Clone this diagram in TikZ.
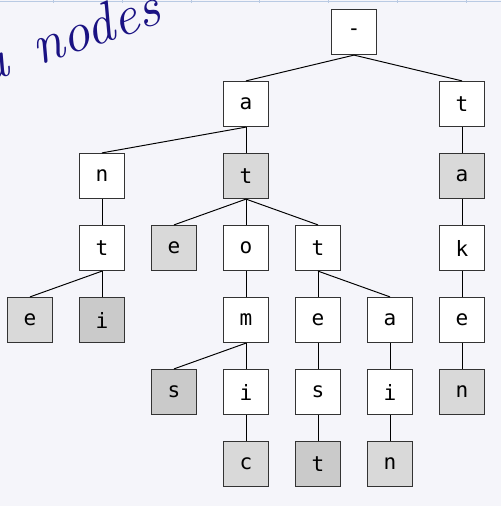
\documentclass[tikz,border=0pt]{standalone}
\usepackage{fontspec}
\setmonofont{DejaVu Sans Mono}
\usepackage{tikz}
\usetikzlibrary{positioning}
\definecolor{pagebg}{HTML}{F5F5FA}
\definecolor{gridblue}{HTML}{B9CAE3}
\definecolor{inkblue}{HTML}{1A1283}
\definecolor{endlight}{HTML}{D9D9D9}
\definecolor{enddark}{HTML}{CACACA}
\tikzset{
  trie/char/.style={draw=black!80, line width=0.7pt, fill=white, minimum size=0.9cm, inner sep=0pt,
    font=\fontsize{12}{12}\selectfont\ttfamily},
  trie/word/.style={trie/char, fill=endlight},
  trie/wordb/.style={trie/char, fill=enddark},
  trie/edge/.style={line width=0.55pt},
  trie/grid/.style={gridblue, line width=0.5pt}
}

\begin{document}
\begin{tikzpicture}[x=0.02cm, y=-0.02cm]
  \clip (0,0) rectangle (501,506);
  \fill[pagebg] (0,0) rectangle (501,506);
  % strip at the top edge
  \draw[trie/grid] (0,1.5) -- (501,1.5);
  \foreach \gx in {53,122,191,259,328,397,466}
    \draw[trie/grid] (\gx,0) -- (\gx,3);
  % handwriting
  \node[inkblue, rotate=19, font=\fontsize{32}{32}\selectfont\itshape] (hand) at (68,35) {a\hspace{0.15em} nodes};

  \node[trie/char] (root) at (354,32) {-};
  \node[trie/char] (a) at (246,104) {a};
  \node[trie/char] (t) at (462,104) {t};

  \node[trie/char] (an) at (102,176) {n};
  \node[trie/word] (at) at (246,176) {t};
  \node[trie/word] (ta) at (462,176) {a};

  \node[trie/char] (ant) at (102,248) {t};
  \node[trie/word] (ate) at (174,248) {e};
  \node[trie/char] (ato) at (246,248) {o};
  \node[trie/char] (att) at (318,248) {t};
  \node[trie/char] (tak) at (462,248) {k};

  \node[trie/word] (ante) at (30,320) {e};
  \node[trie/wordb] (anti) at (102,320) {i};
  \node[trie/char] (atom) at (246,320) {m};
  \node[trie/char] (atte) at (318,320) {e};
  \node[trie/char] (atta) at (390,320) {a};
  \node[trie/char] (take) at (462,320) {e};

  \node[trie/wordb] (atoms) at (174,392) {s};
  \node[trie/char] (atomi) at (246,392) {i};
  \node[trie/char] (attes) at (318,392) {s};
  \node[trie/char] (attai) at (390,392) {i};
  \node[trie/word] (taken) at (462,392) {n};

  \node[trie/word] (atomic) at (246,464) {c};
  \node[trie/wordb] (attest) at (318,464) {t};
  \node[trie/word] (attain) at (390,464) {n};

  \draw[trie/edge] (root.south) -- (a.north);
  \draw[trie/edge] (root.south) -- (t.north);
  \draw[trie/edge] (a.south) -- (an.north);
  \draw[trie/edge] (a.south) -- (at.north);
  \draw[trie/edge] (t.south) -- (ta.north);
  \draw[trie/edge] (an.south) -- (ant.north);
  \draw[trie/edge] (at.south) -- (ate.north);
  \draw[trie/edge] (at.south) -- (ato.north);
  \draw[trie/edge] (at.south) -- (att.north);
  \draw[trie/edge] (ta.south) -- (tak.north);
  \draw[trie/edge] (ant.south) -- (ante.north);
  \draw[trie/edge] (ant.south) -- (anti.north);
  \draw[trie/edge] (ato.south) -- (atom.north);
  \draw[trie/edge] (att.south) -- (atte.north);
  \draw[trie/edge] (att.south) -- (atta.north);
  \draw[trie/edge] (tak.south) -- (take.north);
  \draw[trie/edge] (atom.south) -- (atoms.north);
  \draw[trie/edge] (atom.south) -- (atomi.north);
  \draw[trie/edge] (atte.south) -- (attes.north);
  \draw[trie/edge] (atta.south) -- (attai.north);
  \draw[trie/edge] (take.south) -- (taken.north);
  \draw[trie/edge] (atomi.south) -- (atomic.north);
  \draw[trie/edge] (attes.south) -- (attest.north);
  \draw[trie/edge] (attai.south) -- (attain.north);
\end{tikzpicture}
\end{document}
